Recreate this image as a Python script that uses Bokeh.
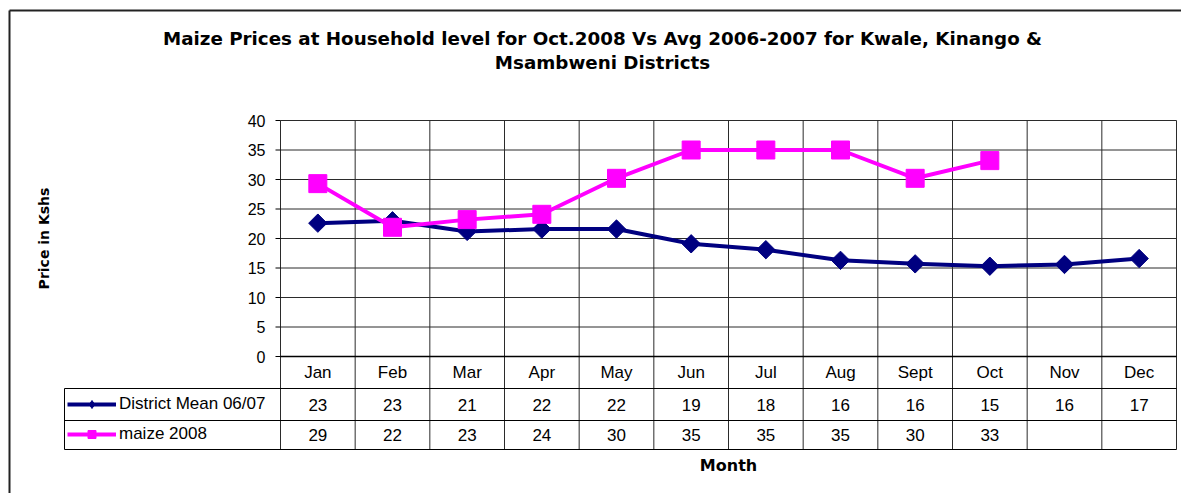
import numpy as np
from bokeh.plotting import figure
from bokeh.models import Range1d, Legend, LegendItem
from bokeh.core.properties import value
from bokeh.embed import file_html
from bokeh.resources import INLINE

# ---------------- data ----------------
months = ["Jan", "Feb", "Mar", "Apr", "May", "Jun", "Jul", "Aug", "Sept", "Oct", "Nov", "Dec"]
district_mean = [22.6, 23.0, 21.2, 21.6, 21.6, 19.1, 18.1, 16.3, 15.7, 15.3, 15.6, 16.6]
maize_2008 = [29.3, 21.9, 23.2, 24.1, 30.2, 35.0, 35.0, 35.0, 30.2, 33.2]
y_ticks = [0, 5, 10, 15, 20, 25, 30, 35, 40]
series_names = ["District Mean 06/07", "maize 2008"]
title_lines = ["Maize Prices at Household level for Oct.2008 Vs Avg 2006-2007 for Kwale, Kinango &",
               "Msambweni Districts"]
y_label = "Price in Kshs"
x_label = "Month"

# ---------------- layout (page pixels) ----------------
W, H = 1181, 493
PL, PR, PT, PB = 280, 1176, 120, 449   # plot area + data table
Y0 = 356                               # page y of value 0
ROW1, ROW2 = 388, 420                  # table row separators
KEY_L = 64                             # left edge of the table's key column
YMAX = y_ticks[-1]
NCOL = len(months)
XPX = (PR - PL) / NCOL
YPX = (Y0 - PT) / YMAX


def px_x(px):
    return (px - PL) / XPX


def py_y(py):
    return YMAX - (py - PT) / YPX


NAVY = "#000080"
MAGENTA = "#FF00FF"
GRID = "#2b2b2b"
REG = "Liberation Sans"
BOLD = "DejaVu Sans"

p = figure(width=W, height=H,
           x_range=Range1d(px_x(0), px_x(W)), y_range=Range1d(py_y(H), py_y(0)),
           output_backend="svg", toolbar_location=None,
           min_border_left=0, min_border_right=0, min_border_top=0, min_border_bottom=0)
p.axis.visible = False
p.grid.visible = False
p.outline_line_color = None
p.background_fill_color = "white"
p.border_fill_color = "white"

y_bot = py_y(PB)
bounds = np.arange(NCOL + 1)
centers = np.arange(NCOL) + 0.5

# outer chart frame (left and top edges visible)
p.segment(x0=[px_x(9), px_x(9)], y0=[py_y(10), py_y(10)],
          x1=[px_x(W + 20), px_x(9)], y1=[py_y(10), py_y(H + 20)],
          line_color="#222222", line_width=2)

# horizontal grid lines of the plot area
grid_y = [t for t in y_ticks if t > 0]
p.segment(x0=[0] * len(grid_y), y0=grid_y, x1=[NCOL] * len(grid_y), y1=grid_y,
          line_color=GRID, line_width=1)
# vertical column lines through plot and table (x=0 is the value axis)
p.segment(x0=bounds, y0=[y_bot] * len(bounds), x1=bounds, y1=[YMAX] * len(bounds),
          line_color=GRID, line_width=1)
# table horizontal lines
p.segment(x0=[px_x(KEY_L), px_x(KEY_L), px_x(KEY_L)], y0=[py_y(ROW1), py_y(ROW2), y_bot],
          x1=[NCOL] * 3, y1=[py_y(ROW1), py_y(ROW2), y_bot],
          line_color="black", line_width=1)
p.segment(x0=[px_x(KEY_L)], y0=[py_y(ROW1)], x1=[px_x(KEY_L)], y1=[y_bot],
          line_color="black", line_width=1)
# zero line
p.segment(x0=[0], y0=[0], x1=[NCOL], y1=[0], line_color="black", line_width=1.5)

# value axis ticks and labels
p.segment(x0=[px_x(PL - 5)] * len(y_ticks), y0=y_ticks, x1=[0] * len(y_ticks), y1=y_ticks,
          line_color="black", line_width=1)
p.text(x=[px_x(PL - 15)] * len(y_ticks), y=y_ticks, text=[str(t) for t in y_ticks],
       text_align="right", text_baseline="middle", text_font=value(REG),
       text_font_size="16px", text_color="black")

# series
nd, nm = len(district_mean), len(maize_2008)
l1 = p.line(centers[:nd], district_mean, line_color=NAVY, line_width=4)
# diamond key glyph (used by the legend; hidden under the rotated squares)
k1 = p.scatter(centers[:nd], district_mean, marker="diamond", size=10,
               fill_color=NAVY, line_color=NAVY)
s1 = p.scatter(centers[:nd], district_mean, marker="square", angle=np.pi / 4,
               size=13, fill_color=NAVY, line_color=NAVY)
l2 = p.line(centers[:nm], maize_2008, line_color=MAGENTA, line_width=4)
s2 = p.scatter(centers[:nm], maize_2008, marker="square",
               size=18, fill_color=MAGENTA, line_color=MAGENTA)

# data table rows
tfont = dict(text_align="center", text_baseline="middle", text_font=value(REG),
             text_font_size="17px", text_color="black")
p.text(centers, [py_y((Y0 + ROW1) / 2)] * NCOL, text=months, **tfont)
p.text(centers[:nd], [py_y((ROW1 + ROW2) / 2)] * nd,
       text=[str(int(round(v))) for v in district_mean], **tfont)
p.text(centers[:nm], [py_y((ROW2 + PB) / 2)] * nm,
       text=[str(int(round(v))) for v in maize_2008], **tfont)

# legend keys in the table's key column
legend = Legend(items=[LegendItem(label=series_names[0], renderers=[l1, k1]),
                       LegendItem(label=series_names[1], renderers=[l2, s2])],
                location=(KEY_L + 3, H - 444), orientation="vertical",
                padding=0, margin=0, spacing=10, glyph_width=49, glyph_height=20,
                label_height=20, label_standoff=3, label_text_font=REG,
                label_text_font_size="17px", label_text_color="black",
                background_fill_alpha=0, border_line_alpha=0)
p.add_layout(legend)

# titles
bfont = dict(text_align="center", text_baseline="middle", text_font=value(BOLD),
             text_font_style="bold", text_color="black")
p.text(x=[px_x(602)] * 2, y=[py_y(38), py_y(62)], text=title_lines,
       text_font_size="18.3px", **bfont)
p.text(x=[(0 + NCOL) / 2], y=[py_y(465)], text=[x_label], text_font_size="16px", **bfont)
p.text(x=[px_x(43)], y=[YMAX / 2], text=[y_label], angle=np.pi / 2,
       text_font_size="14px", **bfont)

open("out.html", "w").write(file_html(p, INLINE))
